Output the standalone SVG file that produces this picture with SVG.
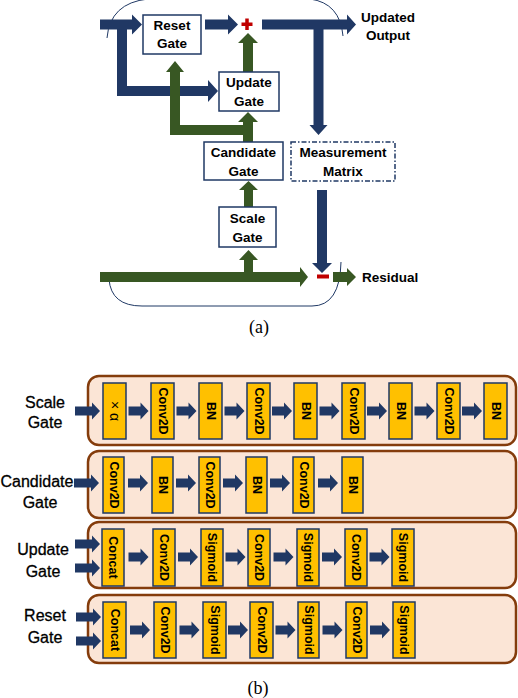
<svg xmlns="http://www.w3.org/2000/svg" xmlns:xlink="http://www.w3.org/1999/xlink" width="518" height="698" viewBox="0 0 518 698">
<style>
.box{fill:#fff;stroke:#1F3864;stroke-width:1.5}
.dash{fill:#fff;stroke:#1F3864;stroke-width:1.5;stroke-dasharray:5,2,1.5,2}
.t{font-family:"Liberation Sans",Arial,sans-serif;font-weight:bold;font-size:13.5px;fill:#000;text-anchor:middle}
.tl{font-family:"Liberation Sans",Arial,sans-serif;font-size:16px;fill:#000;stroke:#000;stroke-width:0.3;text-anchor:middle}
.cap{font-family:"Liberation Serif","Times New Roman",serif;font-size:18px;fill:#000;text-anchor:middle}
.blue{fill:#203864}
.green{fill:#385723}
.red{fill:#C00000}
.arc{fill:none;stroke:#1F3864;stroke-width:1}
.panel{fill:#FBE5D6;stroke:#843C0C;stroke-width:2.5}
.blk{fill:#FFC000;stroke:#1F3864;stroke-width:1.5}
.bt{font-family:"Liberation Sans",Arial,sans-serif;font-weight:bold;font-size:12.5px;fill:#000;text-anchor:middle;dominant-baseline:central}
.ba{font-family:"Liberation Sans",Arial,sans-serif;font-size:14px;fill:#000;text-anchor:middle;dominant-baseline:central}
</style>
<defs>
<path id="ar" class="blue" d="M0,-4.5H12V-8.5L20,0L12,8.5V4.5H0Z"/>
<path id="ai" class="blue" d="M0,-4.5H17V-8.5L25,0L17,8.5V4.5H0Z"/>
</defs>

<!-- (a) outline arcs -->
<g id="cell-outline">
<path class="arc" d="M107,38 Q110,3 148,-1"/>
<path class="arc" d="M310,-1 Q340,3 343,36"/>
<path class="arc" d="M109,279 Q111,306 142,306 L312,306 Q340,306 341,262"/>
</g>

<!-- (a) connectors -->
<g id="connectors-a">
<path class="blue" d="M100,19.5H132V14.5L142,24.5L132,34.5V29.5H100Z"/>
<path class="blue" d="M117,24V96H208V102L218,91L208,80V86H127V24Z"/>
<path class="blue" d="M205,19.5H228V14.5L238,24.5L228,34.5V29.5H205Z"/>
<path class="blue" d="M262,19.5H347V14.5L356,24.5L347,34.5V29.5H262Z"/>
<path class="blue" d="M313.5,29V125H309.5L318.5,135L327.5,125H323.5V29Z"/>
<path class="blue" d="M317,190V263H312L322,273L332,263H327V190Z"/>
<path class="green" d="M243,72V43H238L248,33L258,43H253V72Z"/>
<path class="green" d="M170,72H166L175,61L184,72H180V125H243V122H238L248,112L258,122H253V142H243V135H170Z"/>
<path class="green" d="M244,207V190H239L248.5,181L258,190H253V207Z"/>
<path class="green" d="M244,277V260H239L248.5,250L258,260H253V277Z"/>
<path class="green" d="M100,272H300V267L308,277L300,287V282H100Z"/>
<path class="green" d="M333,272H347V268L356,277L347,286V282H333Z"/>
<rect class="red" x="241.5" y="22.5" width="11" height="3.5"/>
<rect class="red" x="245.25" y="18.5" width="3.5" height="11.5"/>
<rect class="red" x="317" y="274.5" width="12" height="4"/>
</g>

<!-- (a) nodes -->
<g id="reset-gate"><rect class="box" x="143" y="15" width="58" height="39"/><text class="t" x="172" y="30">Reset</text><text class="t" x="172" y="48">Gate</text></g>
<g id="update-gate"><rect class="box" x="219" y="72" width="60" height="39"/><text class="t" x="249" y="87">Update</text><text class="t" x="249" y="106">Gate</text></g>
<g id="candidate-gate"><rect class="box" x="204" y="142" width="79" height="38"/><text class="t" x="243.5" y="157">Candidate</text><text class="t" x="243.5" y="176">Gate</text></g>
<g id="measurement-matrix"><rect class="dash" x="291" y="142" width="104" height="39"/><text class="t" x="343" y="157">Measurement</text><text class="t" x="343" y="176">Matrix</text></g>
<g id="scale-gate"><rect class="box" x="219" y="207" width="57" height="40"/><text class="t" x="247.5" y="223">Scale</text><text class="t" x="247.5" y="242">Gate</text></g>
<g id="updated-output"><text class="t" x="388" y="22">Updated</text><text class="t" x="388" y="40">Output</text></g>
<g id="residual"><text class="t" x="362" y="282" style="text-anchor:start">Residual</text></g>
<text class="cap" x="259" y="333">(a)</text>

<!-- (b) row 1: Scale Gate -->
<g id="row-scale">
<rect class="panel" x="88" y="376" width="428" height="69" rx="11"/>
<text class="tl" x="45" y="408">Scale</text><text class="tl" x="45" y="428">Gate</text>
<rect class="blk" x="103" y="383" width="23" height="56"/><text class="ba" transform="rotate(90 114.5 411)" x="114.5" y="411">× α</text>
<rect class="blk" x="151" y="383" width="23" height="56"/><text class="bt" transform="rotate(90 162.5 411)" x="162.5" y="411">Conv2D</text>
<rect class="blk" x="199" y="383" width="23" height="56"/><text class="bt" transform="rotate(90 210.5 411)" x="210.5" y="411">BN</text>
<rect class="blk" x="247" y="383" width="23" height="56"/><text class="bt" transform="rotate(90 258.5 411)" x="258.5" y="411">Conv2D</text>
<rect class="blk" x="294" y="383" width="23" height="56"/><text class="bt" transform="rotate(90 305.5 411)" x="305.5" y="411">BN</text>
<rect class="blk" x="342" y="383" width="23" height="56"/><text class="bt" transform="rotate(90 353.5 411)" x="353.5" y="411">Conv2D</text>
<rect class="blk" x="389" y="383" width="23" height="56"/><text class="bt" transform="rotate(90 400.5 411)" x="400.5" y="411">BN</text>
<rect class="blk" x="437" y="383" width="23" height="56"/><text class="bt" transform="rotate(90 448.5 411)" x="448.5" y="411">Conv2D</text>
<rect class="blk" x="484" y="383" width="23" height="56"/><text class="bt" transform="rotate(90 495.5 411)" x="495.5" y="411">BN</text>
</g>

<!-- (b) row 2: Candidate Gate -->
<g id="row-candidate">
<rect class="panel" x="88" y="451" width="428" height="67" rx="11"/>
<text class="tl" x="37" y="487">Candidate</text><text class="tl" x="40" y="508">Gate</text>
<rect class="blk" x="103" y="457" width="21" height="56"/><text class="bt" transform="rotate(90 113.5 485)" x="113.5" y="485">Conv2D</text>
<rect class="blk" x="152" y="457" width="21" height="56"/><text class="bt" transform="rotate(90 162.5 485)" x="162.5" y="485">BN</text>
<rect class="blk" x="199" y="457" width="21" height="56"/><text class="bt" transform="rotate(90 209.5 485)" x="209.5" y="485">Conv2D</text>
<rect class="blk" x="246" y="457" width="21" height="56"/><text class="bt" transform="rotate(90 256.5 485)" x="256.5" y="485">BN</text>
<rect class="blk" x="293" y="457" width="21" height="56"/><text class="bt" transform="rotate(90 303.5 485)" x="303.5" y="485">Conv2D</text>
<rect class="blk" x="342" y="457" width="21" height="56"/><text class="bt" transform="rotate(90 352.5 485)" x="352.5" y="485">BN</text>
</g>

<!-- (b) row 3: Update Gate -->
<g id="row-update">
<rect class="panel" x="88" y="522" width="428" height="66" rx="11"/>
<text class="tl" x="43" y="555">Update</text><text class="tl" x="43" y="577">Gate</text>
<rect class="blk" x="102" y="529" width="22" height="57"/><text class="bt" transform="rotate(90 113 557.5)" x="113" y="557.5">Concat</text>
<rect class="blk" x="153" y="529" width="22" height="57"/><text class="bt" transform="rotate(90 164 557.5)" x="164" y="557.5">Conv2D</text>
<rect class="blk" x="201" y="529" width="22" height="57"/><text class="bt" transform="rotate(90 212 557.5)" x="212" y="557.5">Sigmoid</text>
<rect class="blk" x="248" y="529" width="22" height="57"/><text class="bt" transform="rotate(90 259 557.5)" x="259" y="557.5">Conv2D</text>
<rect class="blk" x="297" y="529" width="22" height="57"/><text class="bt" transform="rotate(90 308 557.5)" x="308" y="557.5">Sigmoid</text>
<rect class="blk" x="345" y="529" width="22" height="57"/><text class="bt" transform="rotate(90 356 557.5)" x="356" y="557.5">Conv2D</text>
<rect class="blk" x="392" y="529" width="22" height="57"/><text class="bt" transform="rotate(90 403 557.5)" x="403" y="557.5">Sigmoid</text>
</g>

<!-- (b) row 4: Reset Gate -->
<g id="row-reset">
<rect class="panel" x="88" y="595" width="428" height="68" rx="11"/>
<text class="tl" x="45" y="621">Reset</text><text class="tl" x="45" y="643">Gate</text>
<rect class="blk" x="103" y="602" width="23" height="56"/><text class="bt" transform="rotate(90 114.5 630)" x="114.5" y="630">Concat</text>
<rect class="blk" x="154" y="602" width="22" height="56"/><text class="bt" transform="rotate(90 165 630)" x="165" y="630">Conv2D</text>
<rect class="blk" x="203" y="602" width="23" height="56"/><text class="bt" transform="rotate(90 214.5 630)" x="214.5" y="630">Sigmoid</text>
<rect class="blk" x="250" y="602" width="23" height="56"/><text class="bt" transform="rotate(90 261.5 630)" x="261.5" y="630">Conv2D</text>
<rect class="blk" x="298" y="602" width="21" height="56"/><text class="bt" transform="rotate(90 308.5 630)" x="308.5" y="630">Sigmoid</text>
<rect class="blk" x="346" y="602" width="21" height="56"/><text class="bt" transform="rotate(90 356.5 630)" x="356.5" y="630">Conv2D</text>
<rect class="blk" x="393" y="602" width="22" height="56"/><text class="bt" transform="rotate(90 404 630)" x="404" y="630">Sigmoid</text>
</g>

<!-- (b) connectors -->
<g id="connectors-b">
<use href="#ai" x="75" y="411"/>
<use href="#ar" x="128.5" y="411"/><use href="#ar" x="176.5" y="411"/><use href="#ar" x="224.5" y="411"/><use href="#ar" x="272" y="411"/>
<use href="#ar" x="319.5" y="411"/><use href="#ar" x="367" y="411"/><use href="#ar" x="414.5" y="411"/><use href="#ar" x="462" y="411"/>
<use href="#ai" x="74" y="483"/>
<use href="#ar" x="128" y="483"/><use href="#ar" x="176" y="483"/><use href="#ar" x="223" y="483"/><use href="#ar" x="270" y="483"/><use href="#ar" x="318" y="483"/>
<use href="#ai" x="75" y="544"/><use href="#ai" x="75" y="568"/>
<use href="#ar" x="128.5" y="557"/><use href="#ar" x="178" y="557"/><use href="#ar" x="225.5" y="557"/><use href="#ar" x="273.5" y="557"/><use href="#ar" x="322" y="557"/><use href="#ar" x="369.5" y="557"/>
<use href="#ai" x="76" y="617"/><use href="#ai" x="76" y="641"/>
<use href="#ar" x="130" y="630"/><use href="#ar" x="179.5" y="630"/><use href="#ar" x="228" y="630"/><use href="#ar" x="275.5" y="630"/><use href="#ar" x="322.5" y="630"/><use href="#ar" x="370" y="630"/>
</g>
<text class="cap" x="258" y="694">(b)</text>
</svg>
